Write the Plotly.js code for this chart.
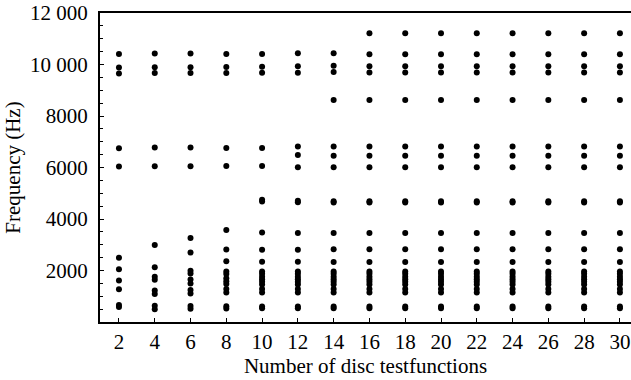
<!DOCTYPE html>
<html>
<head>
<meta charset="utf-8">
<script src="https://cdn.plot.ly/plotly-3.0.1.min.js"></script>
<style>html,body{margin:0;padding:0;background:#fff;}#chart{width:631px;height:380px;}</style>
</head>
<body>
<div id="chart"></div>
<script>
// Number of disc testfunctions (x categories)
const testfunctions = [2, 4, 6, 8, 10, 12, 14, 16, 18, 20, 22, 24, 26, 28, 30];

// Frequencies (Hz), one array per column
const freq2  = [583, 660, 1270, 1610, 2046, 2500, 6035, 6746, 9647, 9880, 10408];
const freq4  = [500, 630, 1090, 1220, 1640, 1760, 2130, 2990, 6047, 6773, 9670, 9891, 10423];
const freq6  = [510, 620, 1103, 1240, 1500, 1650, 1880, 1990, 2695, 3260, 6047, 6773, 9670, 9891, 10423];
const freq8  = [520, 610, 1150, 1280, 1480, 1580, 1700, 1860, 1960, 2360, 2820, 3570, 6058, 6759, 9670, 9903, 10408];
const freq10 = [530, 600, 1150, 1280, 1460, 1560, 1660, 1760, 1870, 1960, 2340, 2810, 3480, 4680, 4750, 6058, 6759, 9680, 9910, 10408];
const freq12 = [530, 600, 1150, 1280, 1460, 1560, 1660, 1760, 1870, 1960, 2340, 2810, 3456, 4650, 4710, 6008, 6486, 6811, 9683, 9930, 10435];
const freq14 = [530, 600, 1150, 1280, 1460, 1560, 1660, 1760, 1870, 1960, 2330, 2823, 3456, 4640, 4690, 6008, 6460, 6811, 8621, 9709, 9956, 10435];
const freq16 = [530, 600, 1150, 1280, 1460, 1560, 1660, 1760, 1870, 1960, 2330, 2823, 3456, 4640, 4690, 6008, 6460, 6811, 8621, 9690, 9930, 10400, 11212];
const freq18 = [530, 600, 1150, 1280, 1460, 1560, 1660, 1760, 1870, 1960, 2330, 2823, 3456, 4640, 4690, 6008, 6460, 6811, 8621, 9690, 9930, 10400, 11212];
const freq20 = [530, 600, 1150, 1280, 1460, 1560, 1660, 1760, 1870, 1960, 2330, 2823, 3456, 4640, 4690, 6008, 6460, 6811, 8621, 9690, 9930, 10400, 11212];
const freq22 = [530, 600, 1150, 1280, 1460, 1560, 1660, 1760, 1870, 1960, 2330, 2823, 3456, 4640, 4690, 6008, 6460, 6811, 8621, 9690, 9930, 10400, 11212];
const freq24 = [530, 600, 1150, 1280, 1460, 1560, 1660, 1760, 1870, 1960, 2330, 2823, 3456, 4640, 4690, 6008, 6460, 6811, 8621, 9690, 9930, 10400, 11212];
const freq26 = [530, 600, 1150, 1280, 1460, 1560, 1660, 1760, 1870, 1960, 2330, 2823, 3456, 4640, 4690, 6008, 6460, 6811, 8621, 9690, 9930, 10400, 11212];
const freq28 = [530, 600, 1150, 1280, 1460, 1560, 1660, 1760, 1870, 1960, 2330, 2823, 3456, 4640, 4690, 6008, 6460, 6811, 8621, 9690, 9930, 10400, 11212];
const freq30 = [530, 600, 1150, 1280, 1460, 1560, 1660, 1760, 1870, 1960, 2330, 2823, 3456, 4640, 4690, 6008, 6460, 6811, 8621, 9690, 9930, 10400, 11212];

const columns = [freq2, freq4, freq6, freq8, freq10, freq12, freq14, freq16, freq18, freq20, freq22, freq24, freq26, freq28, freq30];

const xs = [], ys = [];
columns.forEach((col, i) => {
  col.forEach(f => { xs.push(testfunctions[i]); ys.push(f); });
});

const font = {family: '"Liberation Serif", "DejaVu Serif", serif', size: 21, color: '#000'};

const data = [{
  type: 'scatter',
  mode: 'markers',
  x: xs,
  y: ys,
  marker: {color: '#000', size: 6, line: {width: 0}},
  hoverinfo: 'skip'
}];

const layout = {
  width: 631,
  height: 380,
  margin: {l: 100, r: 0, t: 13, b: 58, pad: 0},
  paper_bgcolor: '#fff',
  plot_bgcolor: '#fff',
  showlegend: false,
  font: font,
  separators: '. ',
  xaxis: {
    range: [0.94, 30.62],
    tickvals: testfunctions,
    ticks: 'inside',
    ticklen: 4,
    tickwidth: 1,
    tickcolor: '#000',
    showline: true,
    linecolor: '#000',
    linewidth: 2,
    mirror: true,
    showgrid: false,
    zeroline: false,
    tickfont: font,
    title: {text: 'Number of disc testfunctions', font: font, standoff: 5}
  },
  yaxis: {
    range: [0, 12000],
    tickvals: [2000, 4000, 6000, 8000, 10000, 12000],
    exponentformat: 'none',
    ticks: 'inside',
    ticklen: 4,
    tickwidth: 1,
    tickcolor: '#000',
    minor: {dtick: 500, tick0: 0, ticks: 'inside', ticklen: 3, tickcolor: '#000', showgrid: false},
    showline: true,
    linecolor: '#000',
    linewidth: 2,
    mirror: false,
    showgrid: false,
    zeroline: false,
    tickfont: font,
    ticklabelstandoff: 6,
    title: {text: 'Frequency (Hz)', font: font, standoff: 4}
  }
};

Plotly.newPlot('chart', data, layout, {staticPlot: true, displayModeBar: false});
</script>
</body>
</html>
